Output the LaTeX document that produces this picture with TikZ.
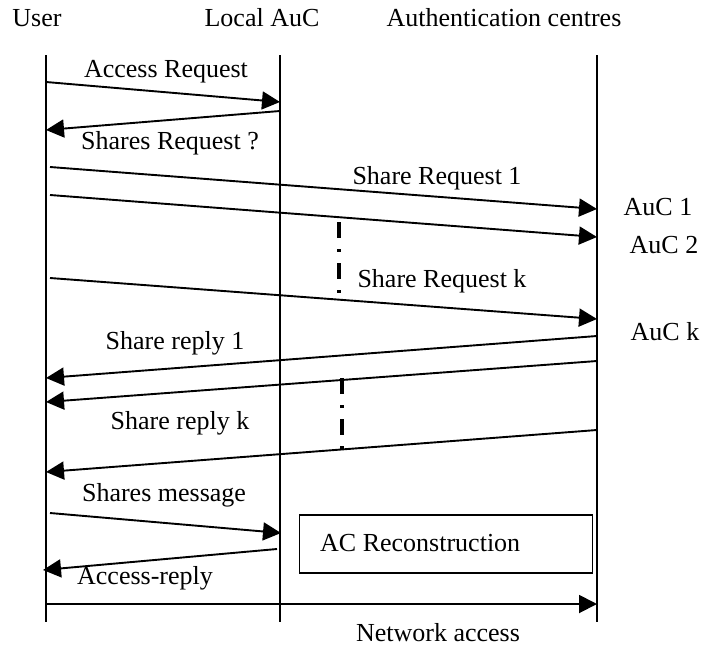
\documentclass[tikz,border=0pt]{standalone}
\usepackage{fontspec}
\setmainfont{Liberation Serif}
\usetikzlibrary{arrows.meta}
\begin{document}
\begin{tikzpicture}[x=1pt,y=-1pt,
  txt/.style={inner sep=0pt,font=\fontsize{26}{30}\selectfont},
  life/.style={line width=1.4pt},
  msg/.style={line width=1.9pt,-{Triangle[length=18pt,width=18pt]}},
  dashdot/.style={line width=3.6pt,dash pattern=on 16pt off 11pt on 3pt off 11pt}]
\useasboundingbox (0,0) rectangle (720,646);
% titles
\node[txt] (tu) at (37,18) {User};
\node[txt] (tl) at (262,18) {Local AuC};
\node[txt] (ta) at (504,18) {Authentication centres};
% lifelines
\coordinate (u0) at (46,55); \coordinate (u1) at (46,622);
\coordinate (l0) at (280,55); \coordinate (l1) at (280,622);
\coordinate (a0) at (597,55); \coordinate (a1) at (597,622);
\draw[life] (u0) -- (u1);
\draw[life] (l0) -- (l1);
\draw[life] (a0) -- (a1);
% endpoints
\coordinate (m1s) at (46,82);  \coordinate (m1e) at (280,102);
\coordinate (m2s) at (280,111); \coordinate (m2e) at (46,130);
\coordinate (m3s) at (50,167); \coordinate (m3e) at (597,209);
\coordinate (m4s) at (50,195); \coordinate (m4e) at (597,237);
\coordinate (m5s) at (50,278); \coordinate (m5e) at (597,319);
\coordinate (m6s) at (597,336); \coordinate (m6e) at (46,378);
\coordinate (m7s) at (597,361); \coordinate (m7e) at (46,402);
\coordinate (m8s) at (597,430); \coordinate (m8e) at (46,472);
\coordinate (m9s) at (50,513); \coordinate (m9e) at (281,533);
\coordinate (m10s) at (277,549); \coordinate (m10e) at (43,570);
\coordinate (m11s) at (46,604); \coordinate (m11e) at (597,604);
% messages
\draw[msg] (m1s) -- (m1e);
\draw[msg] (m2s) -- (m2e);
\draw[msg] (m3s) -- (m3e);
\draw[msg] (m4s) -- (m4e);
\draw[msg] (m5s) -- (m5e);
\draw[msg] (m6s) -- (m6e);
\draw[msg] (m7s) -- (m7e);
\draw[msg] (m8s) -- (m8e);
\draw[msg] (m9s) -- (m9e);
\draw[msg] (m10s) -- (m10e);
\draw[msg] (m11s) -- (m11e);
% dash-dot separators
\coordinate (d1a) at (339,222); \coordinate (d1b) at (339,294);
\coordinate (d2a) at (342,378); \coordinate (d2b) at (342,450);
\draw[dashdot] (d1a) -- (d1b);
\draw[dashdot] (d2a) -- (d2b);
% labels
\node[txt] (l1) at (166,72) {Access Request};
\node[txt] (l2) at (170,143) {Shares Request ?};
\node[txt] (l3) at (437,178) {Share Request 1};
\node[txt] (l5) at (442,281) {Share Request k};
\node[txt] (l6) at (175,343) {Share reply 1};
\node[txt] (l8) at (180,423) {Share reply k};
\node[txt] (l9) at (164,495) {Shares message};
\node[txt] (l10) at (145,578) {Access-reply};
\node[txt,anchor=base] (l11) at (438,641) {Network access};
\node[txt] (c1) at (658,207) {AuC 1};
\node[txt] (c2) at (664,245) {AuC 2};
\node[txt] (ck) at (665,332) {AuC k};
% box
\node[draw,line width=1.4pt,minimum width=293pt,minimum height=58pt,inner sep=0pt] (box) at (446,544) {};
\node[txt,anchor=west] (boxt) at (320,543) {AC Reconstruction};
\end{tikzpicture}
\end{document}
